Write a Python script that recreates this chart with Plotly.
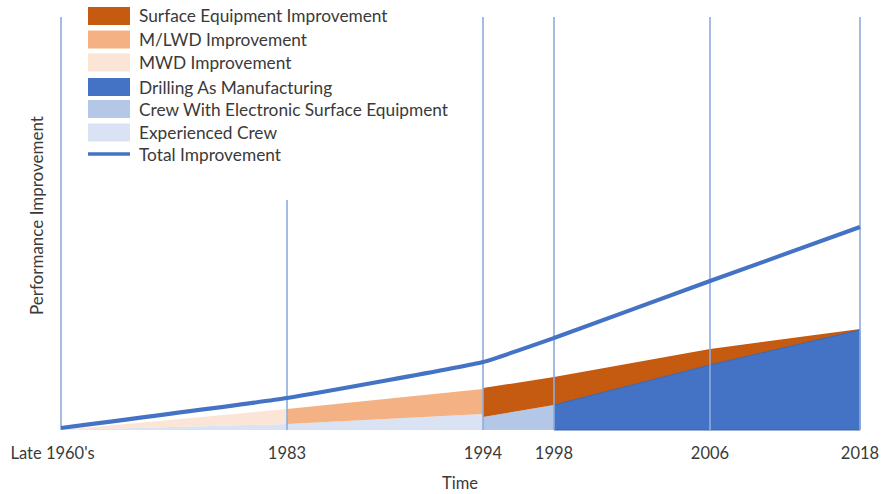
import plotly.graph_objects as go

# Time positions along the horizontal axis (relative spacing) and their labels
period_labels = ["Late 1960's\u00a0\u00a0\u00a0\u00a0", "1983", "1994", "1998", "2006", "2018"]
period_pos = [0, 226, 422, 493, 649, 799]

# Total performance improvement at each period
total_improvement = [2, 32, 68, 92, 149, 203]

# Bands: period indices, lower edge, upper edge
exp_crew_idx = [0, 1, 2]
exp_crew_lo = [0, 0, 0]
exp_crew_hi = [0, 6, 16]

mwd_idx = [0, 1]
mwd_lo = [0, 6]
mwd_hi = [0, 21]

mlwd_idx = [1, 2]
mlwd_lo = [6, 16]
mlwd_hi = [21, 41]

elec_crew_idx = [2, 3]
elec_crew_lo = [0, 0]
elec_crew_hi = [13, 25]

surface_idx = [2, 3, 4, 5]
surface_lo = [13, 25, 65, 100]
surface_hi = [42, 53, 81, 101]

dam_idx = [3, 4, 5]
dam_lo = [0, 0, 0]
dam_hi = [25, 65, 100]

# Height of each vertical period marker
marker_top = [413, 230, 413, 413, 413, 413]

legend_names = [
    "Surface Equipment Improvement",
    "M/LWD Improvement",
    "MWD Improvement",
    "Drilling As Manufacturing",
    "Crew With Electronic Surface Equipment",
    "Experienced Crew",
    "Total Improvement",
]
legend_colors = ["#c55a11", "#f4b183", "#fbe5d6", "#4472c4", "#b4c7e7", "#dae3f3", "#4472c4"]

FONT = "Lato"
TEXT = "#3a3a3a"
W, H = 881, 494
ML, MR, MT, MB = 59, 20, 15, 62
PW, PH = W - ML - MR, H - MT - MB


def px_x(p):
    return (p - ML) / PW


def px_y(p):
    return (H - MB - p) / PH


fig = go.Figure()


def band(idx, lo, hi, color, edge=None):
    xs = [period_pos[i] for i in idx]
    fig.add_trace(go.Scatter(
        x=xs + xs[::-1],
        y=hi + lo[::-1],
        fill="toself",
        fillcolor=color,
        mode="lines",
        line=dict(width=1 if edge else 0, color=edge or color),
        hoverinfo="skip",
        showlegend=False,
    ))


band(exp_crew_idx, exp_crew_lo, exp_crew_hi, legend_colors[5])
band(mwd_idx, mwd_lo, mwd_hi, legend_colors[2])
band(mlwd_idx, mlwd_lo, mlwd_hi, legend_colors[1])
band(elec_crew_idx, elec_crew_lo, elec_crew_hi, legend_colors[4])
band(surface_idx, surface_lo, surface_hi, legend_colors[0])
band(dam_idx, dam_lo, dam_hi, legend_colors[3], edge="#3a63ad")

# Vertical period markers
for x, top in zip(period_pos, marker_top):
    fig.add_trace(go.Scatter(
        x=[x, x], y=[0, top], mode="lines",
        line=dict(color="rgba(143,170,220,0.8)", width=2),
        hoverinfo="skip", showlegend=False,
    ))

# Total improvement line
fig.add_trace(go.Scatter(
    x=period_pos, y=total_improvement, mode="lines",
    line=dict(color=legend_colors[6], width=4, shape="spline", smoothing=0.35),
    name=legend_names[6], showlegend=False,
))

# Legend drawn as swatches with labels
shapes = []
annotations = []
row_y = [16, 39.5, 62.5, 87, 109, 132.5, 154]
for i, (name, color) in enumerate(zip(legend_names, legend_colors)):
    cy = row_y[i]
    if i < 6:
        shapes.append(dict(type="rect", xref="paper", yref="paper",
                           x0=px_x(88), x1=px_x(130), y0=px_y(cy + 9), y1=px_y(cy - 9),
                           fillcolor=color, line=dict(width=0)))
    else:
        shapes.append(dict(type="line", xref="paper", yref="paper",
                           x0=px_x(88), x1=px_x(130), y0=px_y(cy), y1=px_y(cy),
                           line=dict(color=color, width=3.5)))
    annotations.append(dict(text=name, xref="paper", yref="paper",
                            x=px_x(137), y=px_y(cy), xanchor="left", yanchor="middle",
                            showarrow=False, font=dict(family=FONT, size=17.3, color=TEXT)))

annotations.append(dict(text="Performance Improvement", xref="paper", yref="paper",
                        x=px_x(36), y=px_y(216), textangle=-90, xanchor="center",
                        yanchor="middle", showarrow=False,
                        font=dict(family=FONT, size=17, color=TEXT)))
annotations.append(dict(text="Time", xref="paper", yref="paper",
                        x=px_x(460), y=px_y(483), xanchor="center", yanchor="middle",
                        showarrow=False, font=dict(family=FONT, size=16.5, color=TEXT)))

fig.update_layout(
    width=W, height=H,
    margin=dict(l=ML, r=MR, t=MT, b=MB, autoexpand=False),
    plot_bgcolor="white", paper_bgcolor="white",
    showlegend=False,
    shapes=shapes,
    annotations=annotations,
    xaxis=dict(range=[-2, 800], tickvals=period_pos, ticktext=period_labels,
               showgrid=False, zeroline=False, showline=False, automargin=False,
               ticks="outside", ticklen=6, tickcolor="rgba(0,0,0,0)",
               tickfont=dict(family=FONT, size=16.5, color=TEXT), fixedrange=True),
    yaxis=dict(range=[-2, 415], showgrid=False, zeroline=False, showline=False,
               showticklabels=False, automargin=False, fixedrange=True),
)

fig.write_html("out.html")
